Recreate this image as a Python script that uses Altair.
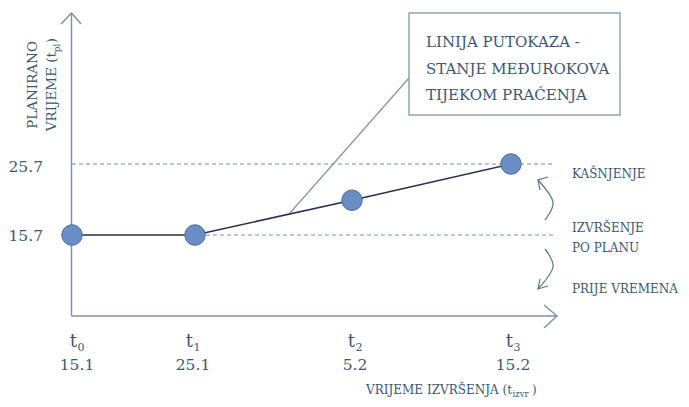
import altair as alt
import pandas as pd

# ---------------- data ----------------
stage_sub = ["0", "1", "2", "3"]
dates = ["15.1", "25.1", "5.2", "15.2"]
stage_pos = [72, 195, 352, 511]          # position of each checkpoint on the execution-time axis
label_pos = [77, 193, 355, 513]          # centre of each checkpoint label
planned = [15.7, 15.7, 20.6, 25.7]       # planned time at each checkpoint
ref_levels = [25.7, 15.7]
ref_labels = ["25.7", "15.7"]
zone_labels = ["KAŠNJENJE", "IZVRŠENJE", "PO PLANU", "PRIJE VREMENA"]
callout_lines = ["LINIJA PUTOKAZA -", "STANJE MEĐUROKOVA", "TIJEKOM PRAĆENJA"]
x_title = "VRIJEME IZVRŠENJA (t"
x_title_sub = "izvr"
y_title_1 = "PLANIRANO"
y_title_2 = "VRIJEME (t"
y_title_sub = "pl"

TEXT = "#3a5876"
AXIS = "#7d8ea6"
FONT = "DejaVu Serif"

W, H = 673, 391
PX_PER_UNIT = 7.1


def Y(py):
    """vertical position (image pixels) -> planned-time units"""
    return 15.7 + (235 - py) / PX_PER_UNIT


xs = alt.Scale(domain=[8, 8 + W], nice=False, zero=False)
ys = alt.Scale(domain=[Y(8 + H), Y(8)], nice=False, zero=False)


def enc(**kw):
    return dict(x=alt.X("x:Q", scale=xs, axis=None), y=alt.Y("y:Q", scale=ys, axis=None), **kw)


def segs(rows, color, width, dash=None, interpolate="linear"):
    df = pd.DataFrame(rows, columns=["g", "o", "x", "y"])
    kw = dict(color=color, strokeWidth=width, interpolate=interpolate)
    if dash:
        kw["strokeDash"] = dash
    return alt.Chart(df).mark_line(**kw).encode(**enc(detail="g:N", order="o:Q"))


def texts(xv, yv, labels, size, align="left", angle=0, color=TEXT):
    df = pd.DataFrame({"x": xv, "y": yv, "t": labels})
    kw = dict(font=FONT, fontSize=size, align=align, baseline="alphabetic", color=color)
    if angle:
        kw["angle"] = angle
    return alt.Chart(df).mark_text(**kw).encode(**enc(text="t:N"))


# axes with arrow heads
axes = segs([
    ("ya", 0, 71.5, Y(316)), ("ya", 1, 71.5, Y(13)),
    ("yh", 0, 61, Y(24)), ("yh", 1, 71.5, Y(13)), ("yh", 2, 81, Y(24)),
    ("xa", 0, 71.5, Y(316)), ("xa", 1, 557, Y(316)),
    ("xh", 0, 544, Y(305)), ("xh", 1, 557, Y(316)), ("xh", 2, 544, Y(328)),
], AXIS, 1.4)

# dashed reference lines
dashed = segs([
    ("a", 0, 72, ref_levels[0]), ("a", 1, 553, ref_levels[0]),
    ("b", 0, 206, ref_levels[1]), ("b", 1, 553, ref_levels[1]),
], AXIS, 1.1, dash=[4, 3])

# callout leader
leader = segs([("l", 0, 290, Y(213)), ("l", 1, 409, Y(78))], "#7f95a6", 1.2)

# curved arrows
curves = segs([
    ("u", 0, 545, Y(220)), ("u", 1, 553, Y(202)), ("u", 2, 538, Y(180)),
    ("d", 0, 545, Y(249)), ("d", 1, 553, Y(267)), ("d", 2, 538, Y(289)),
], "#5d7289", 1.2, interpolate="cardinal")
heads = segs([
    ("uh", 0, 548, Y(177)), ("uh", 1, 538, Y(180)), ("uh", 2, 540, Y(190)),
    ("dh", 0, 540, Y(279)), ("dh", 1, 538, Y(289)), ("dh", 2, 548, Y(286)),
], "#5d7289", 1.2)

# series
series_df = pd.DataFrame({"x": stage_pos, "y": planned})
line = alt.Chart(series_df).mark_line(color="#2b2e4e", strokeWidth=1.6).encode(**enc())
points = alt.Chart(series_df).mark_point(
    shape="circle", filled=True, size=420, fill="#6b8dc6", stroke="#4d6a9c",
    strokeWidth=1, opacity=1
).encode(**enc())

# callout box
box_df = pd.DataFrame({"x": [409], "x2": [620], "y": [Y(13)], "y2": [Y(115)]})
box = alt.Chart(box_df).mark_rect(fill="white", stroke="#8ea2b2", strokeWidth=1.5).encode(
    **enc(x2="x2:Q", y2="y2:Q"))
box_text = texts([426] * 3, [Y(47), Y(73.5), Y(99.5)], callout_lines, 15)

# checkpoint labels
t_main = texts(label_pos, [Y(347)] * 4, ["t"] * 4, 18, align="right")
t_sub = texts([p + 0.5 for p in label_pos], [Y(351)] * 4, stage_sub, 11)
t_dates = texts(label_pos, [Y(370)] * 4, dates, 15.5, align="center")

# y value labels
y_vals = texts([43, 43], [Y(171.5), Y(240.5)], ref_labels, 15.5, align="right")

# zone labels
zones = texts([572] * 4, [Y(178), Y(232), Y(252), Y(293)], zone_labels, 12)

# axis titles
xt = texts([512], [Y(394)], [x_title], 12, align="right")
xt_sub = texts([512.5], [Y(397)], [x_title_sub], 8.5)
xt_end = texts([532], [Y(394)], [")"], 12)

yt1 = texts([37], [Y(41)], [y_title_1], 13.5, align="right", angle=270)
yt2 = texts([56], [Y(52)], [y_title_2], 13.5, align="right", angle=270)
yt2_sub = texts([60], [Y(43.5)], [y_title_sub], 9, align="right", angle=270)
yt2_end = texts([56], [Y(38)], [")"], 13.5, align="right", angle=270)

chart = alt.layer(
    axes, dashed, leader, curves, heads, line, points, box, box_text,
    t_main, t_sub, t_dates, y_vals, zones, xt, xt_sub, xt_end,
    yt1, yt2, yt2_sub, yt2_end,
).properties(
    width=W, height=H, padding=0, autosize=alt.AutoSizeParams(type="none"),
    background="white",
).configure_view(stroke=None)

chart.save("out.html", embed_options={"renderer": "svg", "actions": False})
